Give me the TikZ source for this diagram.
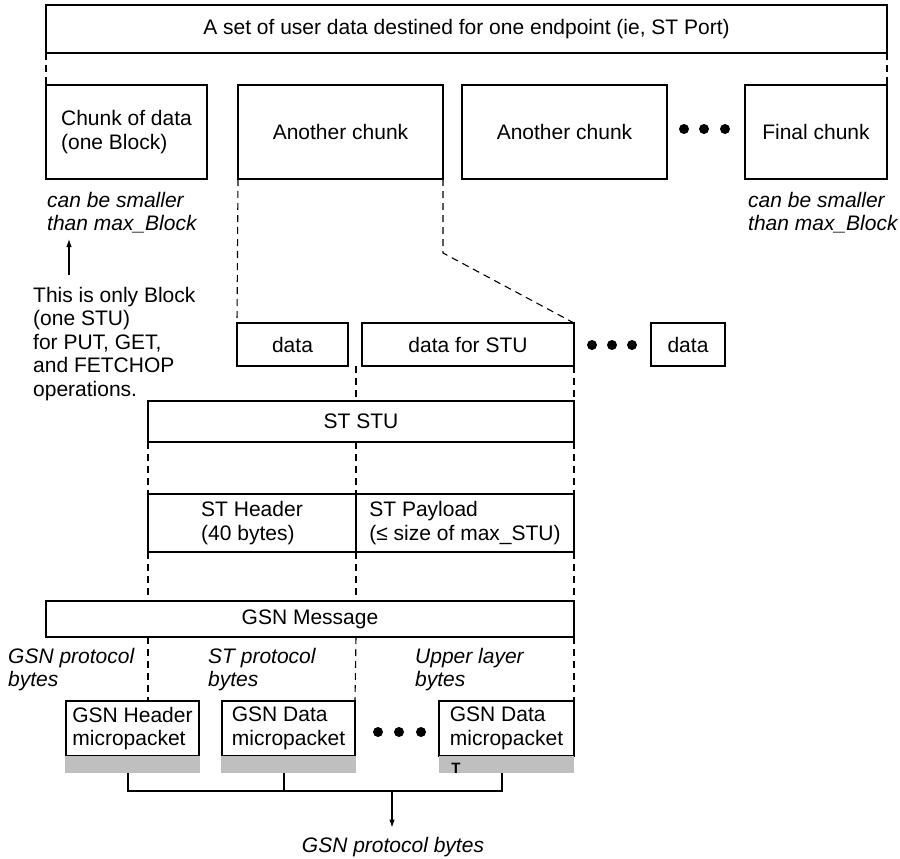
\documentclass[tikz,border=0pt]{standalone}
\usepackage{fontspec}
\setmainfont{Liberation Sans}
\usetikzlibrary{arrows.meta}
\begin{document}
\begin{tikzpicture}[x=1pt,y=-1pt,
  txt/.style={font=\fontsize{21pt}{23.5pt}\selectfont},
  blk/.style={draw, line width=2.3pt, inner sep=0pt, outer sep=0pt, txt, align=left},
  mpk/.style={draw, line width=1.3pt, inner sep=0pt, outer sep=0pt, txt, align=left,
              minimum width=133pt, minimum height=55pt},
  bar/.style={fill=black!25, draw=none, inner sep=0pt, outer sep=0pt,
              minimum width=135pt, minimum height=17pt, anchor=north},
  dsh/.style={dash pattern=on 7pt off 5pt, line width=1.1pt},
  lnk/.style={line width=1.1pt},
  note/.style={txt, inner sep=0pt, align=left, anchor=north west},
  arr/.style={lnk, -{Latex[length=8pt,width=5.5pt]}},
  dot/.style={fill=black}
]
\useasboundingbox (0,0) rectangle (900,859);

% the whole set of user data and its chunks
\node[blk, minimum width=841pt, minimum height=48pt] (top) at (466.5,29)
  {A set of user data destined for one endpoint (ie, ST Port)};
\node[blk, minimum width=161pt, minimum height=94pt] (c1) at (126.5,132)
  {Chunk of data\\(one Block)};
\node[blk, minimum width=205pt, minimum height=94pt] (c2) at (340.5,132) {Another chunk};
\node[blk, minimum width=205pt, minimum height=94pt] (c3) at (564.5,132) {Another chunk};
\node[blk, minimum width=142pt, minimum height=94pt] (c4) at (816,132) {Final chunk};
\foreach \x in {684,704,725} \fill[dot] (\x,129) circle (5pt);

\draw[dsh] (top.south west) -- (c1.north west);
\draw[dsh] (top.south east) -- (c4.north east);

\node[note] (smallL) at (47,192) {\itshape can be smaller\\\itshape than max\_Block};
\node[note] (smallR) at (748,192) {\itshape can be smaller\\\itshape than max\_Block};

\node[note] (only) at (33,287)
  {This is only Block\\(one STU)\\for PUT, GET,\\and FETCHOP\\operations.};
\coordinate (onlyA) at (69,275);
\coordinate (onlyB) at (69,239);
\draw[arr] (onlyA) -- (onlyB);

% data pieces cut from one chunk
\node[blk, minimum width=111pt, minimum height=43pt] (d1) at (292.5,344.5) {data};
\node[blk, minimum width=212pt, minimum height=43pt] (d2) at (468,344.5) {data for STU};
\node[blk, minimum width=74pt, minimum height=43pt] (d3) at (688,344.5) {data};
\foreach \x in {592,612,632} \fill[dot] (\x,345) circle (5pt);

\draw[dsh] (c2.south west) -- (d1.north west);
\draw[dsh] (c2.south east) -- ++(0,74) -- (d2.north east);

% ST transfer unit
\node[blk, minimum width=426pt, minimum height=41pt] (stu) at (361,421.5) {ST STU};
\node[blk, minimum width=208pt, minimum height=58pt] (hdr) at (252,523)
  {ST Header\\(40 bytes)};
\node[blk, minimum width=218pt, minimum height=58pt] (pay) at (465,523)
  {ST Payload\\(≤ size of max\_STU)};

\draw[dsh] (d1.south -| hdr.east) -- (stu.north -| hdr.east);
\draw[dsh] (d2.south east) -- (stu.north east);
\draw[dsh] (stu.south west) -- (hdr.north west);
\draw[dsh] (stu.south -| hdr.east) -- (hdr.north east);
\draw[dsh] (stu.south east) -- (pay.north east);

% GSN message
\node[blk, minimum width=528pt, minimum height=36pt] (gsn) at (310,619) {GSN Message};

\draw[dsh] (hdr.south west) -- (gsn.north -| hdr.west);
\draw[dsh] (hdr.south east) -- (gsn.north -| hdr.east);
\draw[dsh] (pay.south east) -- (gsn.north east);

\node[note] (gsnp) at (8,648) {\itshape GSN protocol\\\itshape bytes};
\node[note] (stp) at (208,648) {\itshape ST protocol\\\itshape bytes};
\node[note] (upl) at (415,648) {\itshape Upper layer\\\itshape bytes};

% micropackets
\node[mpk] (m1) at (132.5,728.5) {GSN Header\\micropacket};
\node[mpk] (m2) at (288.5,728.5) {GSN Data\\micropacket};
\node[mpk, minimum width=135pt] (m3) at (506.5,728.5) {GSN Data\\micropacket};
\foreach \x in {378,399,421} \fill[dot] (\x,732) circle (5pt);

\node[bar] (g1) at (m1.south) {};
\node[bar] (g2) at (m2.south) {};
\node[bar] (g3) at (m3.south) {};
\node[font=\fontsize{15pt}{15pt}\selectfont\bfseries, anchor=base, inner sep=0pt]
  (tmark) at (456,773) {T};

\draw[dsh] (gsn.south -| hdr.west) -- (m1.north -| hdr.west);
\draw[dsh] (gsn.south -| hdr.east) -- (m2.north east);
\draw[dsh] (gsn.south east) -- (m3.north east);

% gathering the micropackets
\node[txt, anchor=base, inner sep=0pt] (outlbl) at (393,852) {\itshape GSN protocol bytes};
\coordinate (bus) at (392,791);
\draw[lnk] ([xshift=-4.5pt]g1.south) |- ([xshift=-4.5pt]g3.south |- bus)
  -- ([xshift=-4.5pt]g3.south);
\draw[lnk] ([xshift=-4.5pt]g2.south) -- ([xshift=-4.5pt]g2.south |- bus);
\draw[arr] (bus) -- ([yshift=9pt]outlbl.north -| bus);
\end{tikzpicture}
\end{document}
